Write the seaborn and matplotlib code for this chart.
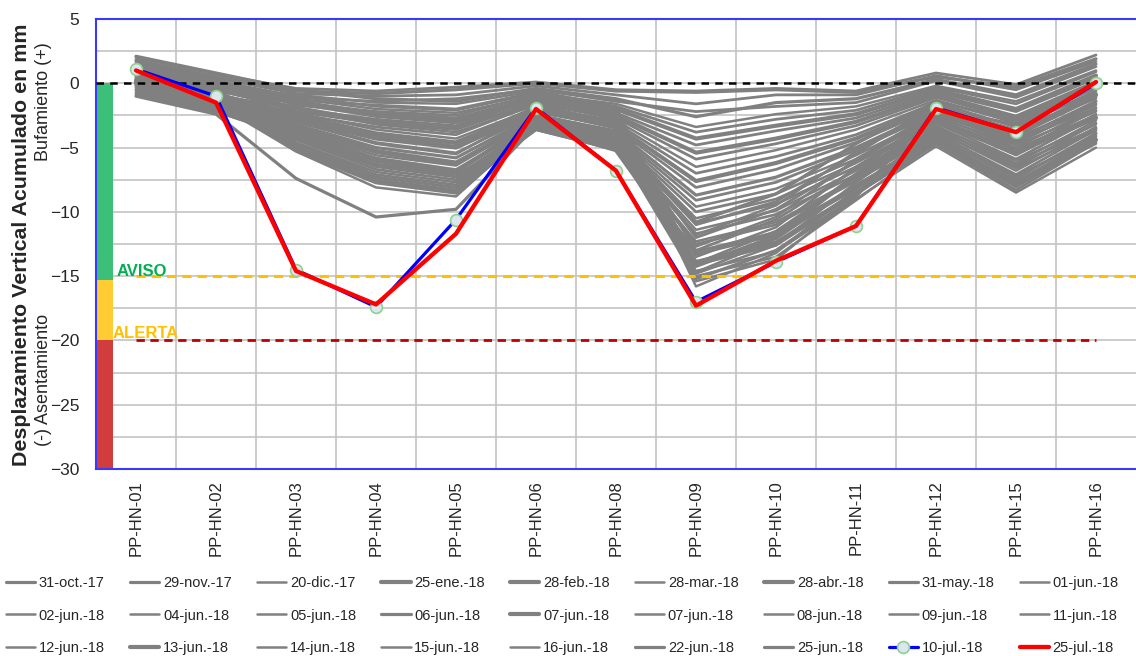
import numpy as np
import pandas as pd
import matplotlib
matplotlib.use("Agg")
import matplotlib.pyplot as plt
import seaborn as sns
from matplotlib.ticker import MultipleLocator, FixedLocator

# ---------------- data ----------------
stations = ["PP-HN-01", "PP-HN-02", "PP-HN-03", "PP-HN-04", "PP-HN-05", "PP-HN-06",
            "PP-HN-08", "PP-HN-09", "PP-HN-10", "PP-HN-11", "PP-HN-12", "PP-HN-15", "PP-HN-16"]

gray_dates = ["31-oct.-17", "29-nov.-17", "20-dic.-17", "25-ene.-18", "28-feb.-18", "28-mar.-18",
              "28-abr.-18", "31-may.-18", "01-jun.-18", "02-jun.-18", "04-jun.-18", "05-jun.-18",
              "06-jun.-18", "07-jun.-18", "07-jun.-18", "08-jun.-18", "09-jun.-18", "11-jun.-18",
              "12-jun.-18", "13-jun.-18", "14-jun.-18", "15-jun.-18", "16-jun.-18", "22-jun.-18",
              "25-jun.-18"]

gray_values = [
    [1.8, 0.5, -0.6, -0.8, -0.5, 0.0, -0.6, -0.7, -0.5, -0.7, 0.5, -0.3, 1.9],
    [2.1, 0.8, -0.5, -1.2, -1.4, -0.4, -1.2, -2.6, -1.5, -1.2, 0.3, -0.9, 1.5],
    [1.5, 0.2, -1.0, -1.8, -2.1, -0.8, -1.6, -3.4, -2.4, -1.8, -0.2, -1.4, 1.0],
    [1.2, -0.1, -1.4, -2.4, -2.9, -1.1, -2.0, -4.3, -3.3, -2.4, -0.5, -2.0, 0.6],
    [0.9, -0.5, -1.9, -3.0, -3.5, -1.5, -2.5, -5.4, -4.3, -3.0, -0.9, -2.6, 0.1],
    [0.5, -0.8, -2.3, -3.6, -4.3, -1.9, -2.9, -6.5, -5.2, -3.6, -1.3, -3.1, -0.4],
    [0.2, -1.1, -2.8, -4.3, -5.0, -2.2, -3.3, -7.6, -6.2, -4.3, -1.7, -3.8, -0.9],
    [-0.1, -1.4, -3.2, -5.0, -5.8, -2.5, -3.7, -8.7, -7.3, -5.0, -2.1, -4.4, -1.4],
    [-0.4, -1.7, -3.6, -5.6, -6.4, -2.8, -4.0, -9.6, -8.2, -5.6, -2.5, -5.0, -1.9],
    [-0.7, -2.0, -4.0, -6.1, -6.9, -3.1, -4.3, -10.5, -9.0, -6.2, -2.9, -5.6, -2.4],
    [-0.9, -2.2, -4.3, -6.5, -7.3, -3.3, -4.6, -11.4, -9.9, -6.8, -3.3, -6.2, -2.9],
    [0.7, -0.6, -4.6, -6.9, -7.7, -3.5, -4.9, -12.3, -10.8, -7.4, -3.7, -6.8, -3.4],
    [0.3, -1.0, -4.9, -7.3, -8.1, -3.6, -5.1, -13.1, -11.6, -8.0, -4.1, -7.4, -3.9],
    [0.0, -1.3, -5.2, -7.7, -8.5, -3.4, -5.2, -13.9, -12.4, -8.5, -4.5, -8.0, -4.4],
    [-0.3, -1.6, -5.3, -8.1, -8.8, -3.2, -5.0, -14.6, -13.1, -9.0, -4.9, -8.5, -5.0],
    [1.0, -0.3, -0.9, -1.5, -1.6, -0.6, -1.8, -15.0, -13.5, -9.1, -4.6, -7.8, -4.7],
    [1.4, 0.1, -1.2, -2.0, -2.3, -1.0, -2.2, -15.4, -13.7, -8.7, -4.2, -7.2, -4.2],
    [0.8, -0.4, -1.6, -2.6, -3.1, -1.3, -2.6, -15.8, -13.2, -8.2, -3.8, -6.6, -3.7],
    [0.4, -0.9, -2.0, -3.2, -3.8, -1.7, -3.0, -14.8, -12.6, -7.7, -3.4, -6.0, -3.2],
    [0.1, -1.2, -2.5, -3.9, -4.6, -2.0, -3.4, -14.2, -11.9, -7.1, -3.0, -5.4, -2.7],
    [-0.2, -1.5, -2.9, -4.6, -5.4, -2.4, -3.8, -13.5, -11.2, -6.5, -2.6, -4.8, -2.2],
    [-0.5, -1.8, -3.3, -5.2, -6.1, -2.7, -4.2, -12.7, -10.4, -5.9, -2.2, -4.2, -1.7],
    [-0.8, -2.1, -3.7, -5.8, -6.7, -3.0, -4.5, -11.8, -9.5, -5.3, -1.8, -3.6, -1.2],
    [-1.0, -2.4, -7.4, -10.4, -9.8, -3.3, -4.8, -15.2, -13.0, -8.8, -2.0, -3.2, -0.8],
    [0.6, -0.7, -4.1, -6.3, -7.0, -2.6, -4.1, -10.8, -8.6, -4.7, -1.4, -2.9, -0.3],
]
# legend line weight class: 0 thin, 1 medium, 2 thick
gray_weight = [1, 1, 0, 2, 2, 0, 2, 1, 0,
               0, 0, 0, 1, 2, 0, 0, 0, 0,
               0, 2, 0, 0, 0, 1, 1]

# additional (unlabelled) readings
extra_values = [
    [2.0, 0.7, -0.4, -0.6, -0.3, 0.1, -0.5, -0.6, -0.4, -0.6, 0.8, -0.1, 2.2],
    [1.7, 0.4, -0.8, -1.0, -0.9, -0.2, -0.9, -1.6, -0.9, -0.9, 0.6, -0.5, 1.7],
    [1.3, 0.0, -1.1, -1.4, -1.2, -0.5, -1.4, -2.2, -1.8, -1.5, 0.2, -1.1, 1.3],
    [1.1, -0.2, -1.5, -2.2, -2.5, -0.9, -1.8, -3.8, -2.8, -2.1, -0.3, -1.6, 0.9],
    [0.8, -0.5, -2.0, -2.8, -3.3, -1.2, -2.3, -4.8, -3.7, -2.7, -0.7, -2.2, 0.4],
    [0.6, -0.8, -2.4, -3.4, -4.0, -1.6, -2.7, -5.9, -4.7, -3.3, -1.1, -2.8, -0.1],
    [0.3, -1.0, -2.6, -4.0, -4.7, -1.8, -3.1, -7.0, -5.7, -4.0, -1.5, -3.4, -0.6],
    [0.0, -1.3, -3.0, -4.7, -5.5, -2.1, -3.5, -8.1, -6.7, -4.6, -1.9, -4.1, -1.1],
    [-0.2, -1.6, -3.4, -5.3, -6.2, -2.5, -3.9, -9.1, -7.7, -5.2, -2.3, -4.7, -1.6],
    [-0.5, -1.9, -3.8, -5.9, -6.8, -2.9, -4.2, -10.0, -8.6, -5.9, -2.7, -5.3, -2.1],
    [-0.8, -2.2, -4.2, -6.4, -7.2, -3.2, -4.5, -10.9, -9.4, -6.5, -3.1, -5.9, -2.6],
    [0.9, -0.4, -4.4, -6.7, -7.5, -3.4, -4.8, -11.7, -10.2, -7.1, -3.5, -6.5, -3.1],
    [0.5, -0.8, -4.7, -7.1, -7.9, -3.5, -5.0, -12.5, -11.0, -7.6, -3.9, -7.1, -3.6],
    [0.2, -1.1, -5.0, -7.5, -8.3, -3.6, -5.2, -13.3, -11.8, -8.2, -4.3, -7.7, -4.1],
    [-0.1, -1.4, -1.3, -1.7, -2.0, -0.7, -2.0, -14.1, -12.6, -8.6, -4.7, -8.3, -4.6],
    [1.6, 0.3, -1.7, -2.3, -2.7, -1.1, -2.4, -14.7, -12.1, -7.9, -4.4, -7.6, -4.4],
    [1.0, -0.3, -2.2, -3.1, -3.6, -1.4, -2.8, -14.0, -11.5, -7.3, -3.6, -6.3, -3.5],
    [0.4, -0.9, -2.7, -4.1, -4.9, -2.0, -3.2, -13.0, -10.6, -6.7, -2.8, -5.1, -2.5],
    [-0.3, -1.7, -3.5, -5.4, -6.3, -2.6, -3.9, -12.0, -9.8, -6.1, -2.4, -4.5, -1.9],
    [-0.6, -2.0, -3.9, -6.0, -6.9, -2.9, -4.3, -11.0, -9.2, -5.5, -1.6, -3.9, -1.0],
]

blue_label = "10-jul.-18"
blue_values = [1.1, -1.0, -14.5, -17.4, -10.6, -1.9, -6.8, -17.0, -13.9, -11.1, -1.9, -3.8, 0.0]
red_label = "25-jul.-18"
red_values = [1.0, -1.5, -14.6, -17.2, -11.7, -2.0, -6.8, -17.3, -13.8, -11.1, -2.0, -3.8, 0.1]

aviso_level = -15.0
alerta_level = -20.0
zone_tops = [0.0, -15.3, -20.0]
zone_bottoms = [-15.3, -20.0, -30.0]
zone_colors = ["#3cbf78", "#ffcc33", "#d13c3c"]

# ---------------- style ----------------
sns.set_style("white")
plt.rcParams["font.family"] = ["Liberation Sans", "DejaVu Sans"]

W, H = 1136, 656
fig = plt.figure(figsize=(W / 100, H / 100), dpi=100)
ax = fig.add_axes([96 / W, 1 - 469 / H, 1040 / W, 450 / H])

x = np.arange(len(stations))
lw_map = {0: 1.8, 1: 2.3, 2: 3.0}
gray = "#808080"

# colour zone bar
ax.bar([-0.3875] * 3, np.array(zone_tops) - np.array(zone_bottoms), bottom=zone_bottoms,
       width=0.2, color=zone_colors, zorder=2, linewidth=0)

for vals in extra_values:
    sns.lineplot(x=x, y=vals, ax=ax, color=gray, lw=2.0, zorder=3, legend=False)
for lab, vals, w in zip(gray_dates, gray_values, gray_weight):
    sns.lineplot(x=x, y=vals, ax=ax, color=gray, lw=lw_map[w], zorder=3, label=lab)

# reference lines
ax.plot([-0.5, 12.5], [0, 0], color="black", lw=1.8, dashes=(3, 2.5), zorder=4)
ax.plot([0, 12.5], [aviso_level, aviso_level], color="#ffc000", lw=2.2, dashes=(3, 2), zorder=4)
ax.plot([0, 12], [alerta_level, alerta_level], color="#c00000", lw=2.0, dashes=(3, 2), zorder=4)

sns.lineplot(x=x, y=blue_values, ax=ax, color="#0000ff", lw=2.3, zorder=5, label=blue_label,
             marker="o", markersize=8.5, markerfacecolor="#dbe6ef", markeredgecolor="#8fd18f",
             markeredgewidth=1.2)
sns.lineplot(x=x, y=red_values, ax=ax, color="#ff0000", lw=3.1, zorder=6, label=red_label)

ax.text(-0.24, aviso_level + 0.05, "AVISO", color="#00b050", fontsize=12, fontweight="bold",
        va="baseline", ha="left", zorder=7)
ax.text(-0.29, alerta_level + 0.15, "ALERTA", color="#ffc000", fontsize=12, fontweight="bold",
        va="baseline", ha="left", zorder=7)

ax.set_xlim(-0.5, 12.5)
ax.set_ylim(-30, 5)
ax.set_xticks(x)
ax.set_xticklabels(stations, rotation=90, fontsize=12, va="top")
ax.xaxis.set_minor_locator(FixedLocator(np.arange(0.5, 12.0, 1.0)))
ax.yaxis.set_major_locator(MultipleLocator(5))
ax.yaxis.set_minor_locator(MultipleLocator(2.5))
ax.tick_params(axis="y", which="major", labelsize=12.5, length=0, pad=12)
ax.tick_params(axis="x", which="major", length=0, pad=8)
ax.tick_params(which="minor", length=0)
ax.grid(False)
ax.grid(True, axis="y", which="both", color="#c4c4c4", lw=1.2, zorder=0)
ax.grid(True, axis="x", which="minor", color="#c4c4c4", lw=1.2, zorder=0)
ax.set_axisbelow(True)
ax.set_xlabel("")
ax.set_ylabel("")

for s in ["left", "bottom", "top"]:
    ax.spines[s].set_color("#3a3aff")
    ax.spines[s].set_linewidth(1.5)
ax.spines["right"].set_visible(False)

# y-axis titles
fig.text(22 / W, 1 - 245 / H, "Desplazamiento Vertical Acumulado en mm", rotation=90,
         fontsize=15.4, fontweight="bold", ha="center", va="center")
fig.text(43 / W, 1 - 102 / H, "Bufamiento (+)", rotation=90, fontsize=13,
         ha="center", va="center")
fig.text(43 / W, 1 - 380 / H, "(-) Asentamiento", rotation=90, fontsize=13,
         ha="center", va="center")

# legend (row-major order in 9 columns)
handles, labels = ax.get_legend_handles_labels()
ax.get_legend().remove()
ncol, nrow = 9, 3
order = [None] * (ncol * nrow)
for i in range(len(handles)):
    r, c = divmod(i, ncol)
    order[c * nrow + r] = i
order = [o for o in order if o is not None]
fig.legend([handles[o] for o in order], [labels[o] for o in order], ncol=ncol,
           loc="lower left", bbox_to_anchor=(0.0, -0.008, 0.99, 0.15), mode="expand",
           frameon=False, fontsize=10.5, handlelength=2.0, handletextpad=0.25,
           labelspacing=1.29, borderaxespad=0.0, columnspacing=0.5)

fig.savefig("out.png", dpi=100)
